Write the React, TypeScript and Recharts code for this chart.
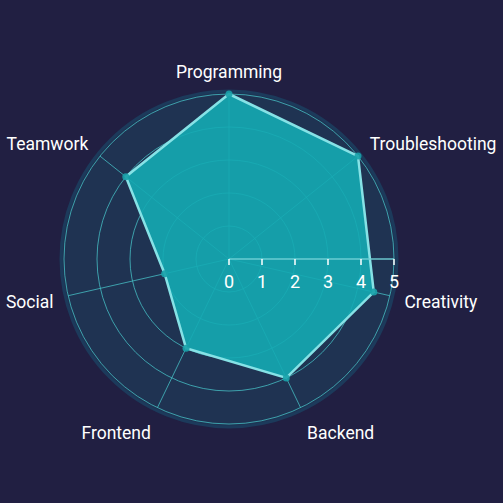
import React from 'react';
import { RadarChart, Radar, PolarGrid, PolarAngleAxis, PolarRadiusAxis } from 'recharts';

const skills = ['Programming', 'Troubleshooting', 'Creativity', 'Backend', 'Frontend', 'Social', 'Teamwork'];
const scores = [5, 5, 4.5, 4, 3, 2, 4];
const radiusTicks = [0, 1, 2, 3, 4, 5];

const data = skills.map((skill, i) => ({ skill, score: scores[i] }));

const CX = 229;
const CY = 259;
const OUTER = 165;
const LABEL_R = 180;

function RadiusTick(props: any) {
  const { x, y, payload } = props;
  return (
    <g>
      <line x1={x} y1={y} x2={x} y2={y + 6} stroke="#ffffff" strokeWidth={1.5} />
      <text x={x} y={y + 29} textAnchor="middle" fill="#ffffff" fontSize={18} fontFamily="Roboto">
        {payload.value}
      </text>
    </g>
  );
}

function AngleTick(props: any) {
  const { x, y, cx, cy, payload } = props;
  const dx = x - cx;
  const dy = y - cy;
  const len = Math.sqrt(dx * dx + dy * dy) || 1;
  const cos = dx / len;
  const sin = -dy / len;
  const px = cx + cos * LABEL_R;
  const py = cy - sin * LABEL_R;
  const shift = sin > 0 ? -7 * sin * sin : 13 * Math.abs(sin);
  const anchor = Math.abs(cos) < 0.1 ? 'middle' : cos > 0 ? 'start' : 'end';
  return (
    <text
      x={px}
      y={py + shift}
      dy="0.35em"
      textAnchor={anchor}
      fill="#ffffff"
      fontSize={17.5}
      fontFamily="Roboto"
    >
      {payload.value}
    </text>
  );
}

export default function App() {
  return (
    <div style={{ position: 'absolute', left: 0, top: 0, width: 503, height: 503, background: '#211f42' }}>
      <svg width={503} height={503} style={{ position: 'absolute', left: 0, top: 0 }}>
        <circle cx={CX} cy={CY} r={168} fill="#1f3352" stroke="#1c3a5b" strokeWidth={3} />
      </svg>
      <div style={{ position: 'absolute', left: 0, top: 0 }}>
        <RadarChart width={503} height={503} cx={CX} cy={CY} outerRadius={OUTER} data={data}>
          <PolarGrid gridType="circle" stroke="#45bcc2" strokeOpacity={0.8} />
          <Radar
            dataKey="score"
            fill="#14aab2"
            fillOpacity={0.9}
            stroke="#86e2e6"
            strokeWidth={2.5}
            dot={{ r: 3.5, fill: '#19a2aa', stroke: 'none' }}
            isAnimationActive={false}
          />
          <PolarAngleAxis dataKey="skill" tickLine={false} tick={<AngleTick />} />
          <PolarRadiusAxis
            angle={0}
            domain={[0, 5]}
            ticks={radiusTicks as any}
            tickCount={6}
            axisLine={{ stroke: '#6fd0d6', strokeOpacity: 0.7, strokeWidth: 2 }}
            tick={<RadiusTick />}
          />
        </RadarChart>
      </div>
    </div>
  );
}
